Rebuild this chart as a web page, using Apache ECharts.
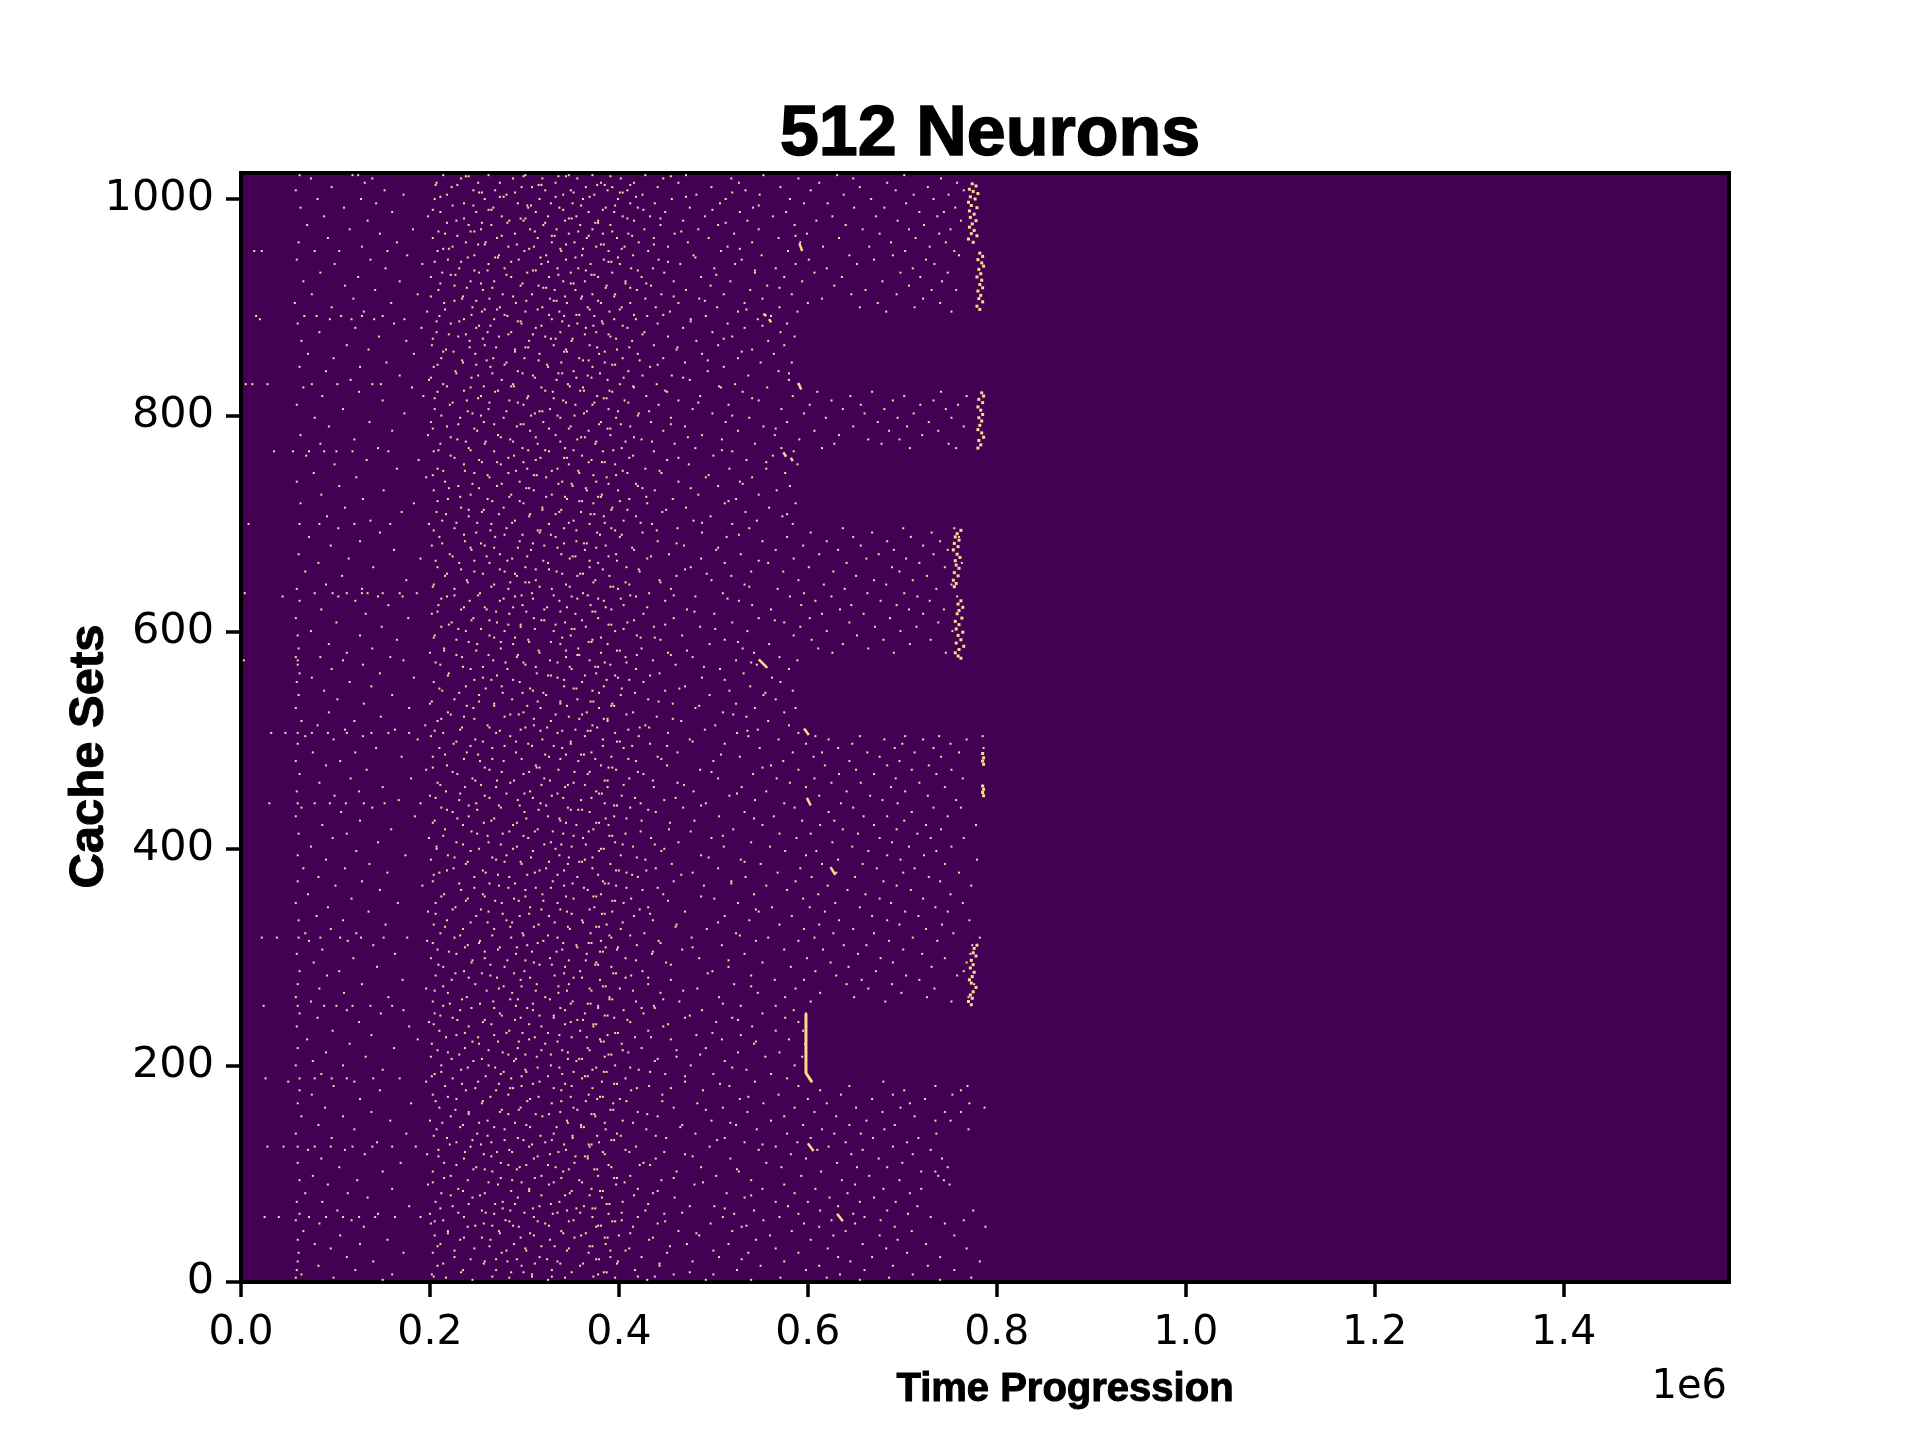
<!DOCTYPE html>
<html><head><meta charset="utf-8">
<script src="https://cdn.jsdelivr.net/npm/echarts@6/dist/echarts.min.js"></script>
<style>html,body{margin:0;background:#fff}#c{width:1921px;height:1441px}</style></head>
<body><div id="c"></div>
<script>
// Access dots are estimated by eye from zoomed crops, band by band. The reference has
// more dots than this list, so single positions and the count are approximate.
const chartTitle = "512 Neurons";
const xName = "Time Progression";
const yName = "Cache Sets";
const xTicks = [0,200000,400000,600000,800000,1000000,1200000,1400000];
const yTicks = [0,200,400,600,800,1000];
// each row: cache set, then access times in thousands
const bandTop = [
[1022,62,118,124,214,262,301,347,372,428,471,553,631,702],
[1019,74,139,233,288,319,356,402,447,519,590,648,741],
[1015,131,207,251,274,333,381,416,463,527,612,684,758],
[1011,96,223,297,308,365,393,441,498,571,655,727],
[1008,58,152,246,269,322,349,388,409,534,603,693,765],
[1004,172,218,281,341,374,425,482,549,638,712,749],
[1000,81,127,205,258,316,362,399,456,513,581,667,733],
[996,143,236,293,328,351,412,438,507,596,621,704],
[992,63,109,267,304,337,386,420,475,542,649,681,756],
[988,160,211,249,312,368,395,449,528,577,718,744],
[984,88,198,276,325,355,404,433,491,563,626,672,737],
[980,134,228,284,299,343,378,416,468,536,609,695,762],
[976,70,241,265,320,359,391,444,505,586,640,723],
[972,115,182,254,306,334,372,427,484,548,658,707,751],
[968,147,216,290,347,383,410,459,522,599,676,739],
[964,92,203,271,314,366,398,437,495,569,633,714],
[960,61,165,238,259,329,353,421,473,541,592,688,746],
[956,128,224,283,310,376,406,452,515,616,665,729],
[952,14,22,78,104,155,208,300,339,389,431,508,579,703,755],
[948,176,247,273,323,361,415,479,551,644,690,760],
[944,59,137,219,294,344,384,442,530,601,670,725],
[940,99,192,262,318,370,401,465,523,587,652,734],
[936,153,231,279,335,357,413,436,501,566,620,711],
[932,84,213,252,303,349,393,448,544,607,698,748],
[928,124,201,286,326,378,424,487,575,636,719],
[924,66,168,243,268,341,364,407,458,518,594,679,742],
[920,110,226,296,315,387,434,497,557,628,707],
[916,142,209,256,332,354,419,471,539,661,731,757],
[912,75,187,277,308,372,396,445,511,583,646,694],
[908,119,234,263,327,360,428,485,552,615,722],
[904,57,159,215,291,345,381,412,463,533,600,674,740],
[900,96,245,274,319,367,403,439,504,570,655,713],
[896,130,197,255,301,337,390,454,526,589,683,752]
];
const bandUpper = [
[892,16,67,80,106,128,150,210,282,342,374,430,492,561],
[889,20,94,117,141,173,236,268,329,395,418,476,547],
[885,60,162,222,297,356,383,441,515,578],
[881,121,191,249,312,365,409,468,533],
[877,83,207,261,286,338,376,427,499,571],
[873,146,230,273,322,391,452,520,586],
[869,64,175,242,305,350,414,482,558],
[865,112,202,258,331,369,437,505,575],
[861,135,217,290,344,398,461,541],
[857,71,183,248,316,379,420,488,564],
[853,98,212,267,300,358,404,447,526],
[849,154,235,281,339,385,470,550,583],
[845,62,126,204,264,325,372,433,511],
[841,90,227,293,352,410,494,569],
[837,168,251,309,367,425,456,537],
[833,116,199,276,334,388,475,580],
[829,5,12,28,75,102,139,148,214,288,346,401,440,523,590],
[826,66,181,243,318,362,416,508,557],
[822,125,208,269,330,393,451,531,610,668,741],
[818,86,193,254,304,377,429,486,584,645,702,768],
[814,150,239,284,341,406,463,548,625,690,733],
[810,59,221,299,354,372,442,516,602,656,719,759],
[806,108,205,262,327,389,478,572,637,681,746],
[802,173,245,311,363,421,499,596,660,712],
[798,78,232,278,338,397,455,538,619,695,752],
[794,136,201,257,320,381,434,513,578,674,728],
[790,93,218,292,349,412,470,553,648,705,765],
[786,160,250,306,368,447,526,607,686,738],
[782,63,198,272,333,391,488,565,633,721],
[778,120,229,285,356,424,509,591,664,697],
[774,84,211,258,314,375,459,544,628,678,749],
[770,145,241,298,343,403,481,572,615,708,757],
[767,35,55,72,88,101,118,156,204,268,326,383,437,520,585],
[763,69,222,289,361,415,500,563],
[759,133,188,252,312,371,451,535],
[755,99,236,275,347,396,474,589],
[751,165,208,303,335,428,517,556],
[747,77,247,283,358,409,445,576],
[743,122,196,263,323,387,492,541],
[739,59,216,295,340,376,463,528],
[735,104,230,271,351,420,505,581],
[731,151,204,310,366,399,438,567],
[727,85,243,286,329,382,484,548],
[723,129,219,261,345,411,457,524],
[719,63,183,299,373,430,512,587],
[715,110,233,278,319,393,471,559],
[711,170,207,255,337,360,446,534],
[707,91,241,305,384,418,497,573],
[703,137,213,290,352,405,479,546],
[700,8,62,83,120,158,199,265,326,369,435,520,584],
[696,103,226,281,342,392,462,538,637,701,755],
[692,147,249,316,377,425,488,603,668,731],
[688,72,210,269,333,401,514,578,648,709,760],
[684,126,237,295,355,441,552,620,684,740],
[680,95,202,258,321,386,469,595,656,722],
[676,162,244,307,364,416,503,566,632,691,748],
[672,61,221,274,339,397,453,529,612,675,733],
[668,114,190,287,348,430,487,585,662,704],
[664,82,231,263,325,378,512,558,641,718,763],
[660,140,208,301,369,408,476,601,689,745],
[656,68,247,279,334,422,540,574,627,697],
[652,107,216,292,356,390,461,519,651,726],
[648,175,239,312,375,443,498,590,670,711],
[644,90,204,268,344,411,533,617,683,752],
[640,59,128,226,283,329,399,455,568,639,736],
[636,4,78,97,112,128,134,150,168,186,253,308,362,432,510,596,663,702],
[633,44,103,145,171,218,290,350,418,481,581,625,716,758],
[629,62,121,242,274,337,384,449,527,608,677,729],
[625,156,209,298,370,405,541,593,646,694],
[621,85,233,260,321,392,472,561,634,707,744],
[617,132,202,284,354,426,501,615,659,722],
[613,58,177,246,310,378,458,548,602,687],
[609,101,223,271,343,409,520,575,644,738],
[605,149,212,296,365,437,486,592,671,715],
[601,74,238,279,331,396,536,620,698,753],
[597,60,126,205,263,349,419,467,585,652],
[593,165,228,304,372,444,512,604,680,730],
[589,93,250,288,338,388,496,559,637,708],
[585,61,139,215,275,357,424,531,611,664],
[581,112,200,316,381,452,543,626,691,746]
];
const bandMiddle = [
[577,58,84,158,234,292,344,407,478,570],
[574,3,60,108,172,267,327,369,436,524,589],
[570,60,129,211,301,391,460,546],
[566,96,243,282,350,418,507,580],
[562,62,147,220,313,376,443,532],
[558,75,183,256,335,399,488,562],
[554,59,115,204,295,361,426,571],
[550,138,238,276,342,384,470,539],
[546,88,213,309,372,449,517,584],
[542,61,160,252,323,402,496,553],
[538,102,226,287,356,431,566],
[534,130,200,268,338,393,457,524],
[530,58,178,246,317,379,481,544,587],
[526,93,219,299,366,415,510,575],
[522,148,236,279,347,440,535],
[518,64,120,208,328,388,466,558],
[514,81,195,261,310,372,428,502,580],
[510,110,163,232,296,354,410,491,547],
[507,32,47,60,75,92,112,138,156,178,214,270,335,396,452,525,590],
[504,68,129,201,285,364,421,537,608,655,703,739,785],
[501,98,187,248,319,383,475,569,622,681,722,768],
[497,60,225,304,349,433,512,598,647,700,751],
[493,143,210,266,340,405,549,632,692,733,786],
[489,76,121,239,291,371,462,584,615,663,713,760],
[485,170,203,326,392,441,528,606,676,741],
[481,58,105,253,278,357,418,500,574,644,697,785],
[477,90,218,312,381,451,561,618,684,728],
[473,133,196,263,336,397,486,590,651,710,752],
[469,62,229,299,367,426,542,633,670,736],
[465,116,180,245,321,411,505,567,607,693,764],
[461,83,208,285,352,462,581,625,656,718],
[457,150,237,270,343,388,437,530,598,688,745],
[453,59,125,217,306,376,479,556,641,703,785],
[449,99,200,258,329,403,517,612,666,727],
[445,167,231,293,360,448,544,600,679,757],
[442,30,60,78,94,111,130,152,190,249,317,385,423,492,575,635,695],
[438,64,139,212,275,346,412,468,586,648,733,762],
[434,106,224,300,369,439,533,622,710],
[430,58,184,241,325,395,506,564,659,684,748],
[426,126,205,265,338,424,480,594,628,702],
[422,86,235,288,355,389,552,613,670,725,778],
[418,159,216,314,373,453,521,637,694,741],
[414,61,112,250,277,341,407,570,603,653,716],
[410,97,199,304,362,434,498,588,676,730,765],
[406,145,228,262,328,396,463,540,626,689],
[402,74,207,292,350,415,511,560,647,707,752],
[398,122,243,309,379,445,576,609,664,736],
[394,60,174,219,281,337,402,487,598,684,723],
[390,90,201,270,364,428,529,632,698,779],
[386,136,238,297,346,391,456,550,615,658,745],
[382,66,110,225,323,372,439,505,592,673,713],
[378,155,210,259,311,408,478,568,630,701,760],
[374,82,247,284,356,420,534,604,650,728],
[370,60,128,203,330,383,458,519,587,680,740],
[366,100,192,273,342,397,490,556,621,694,773],
[362,147,233,301,367,425,578,642,709],
[358,71,215,256,319,381,447,543,611,661,751],
[354,117,240,289,352,413,501,595,676,722],
[350,58,166,206,276,335,405,526,629,688,764],
[346,92,227,306,374,431,562,602,655,735],
[342,135,198,262,345,393,470,548,618,703,748],
[338,80,249,295,326,416,512,583,668,717],
[334,61,108,218,281,361,436,538,633,684,771],
[330,153,204,315,387,461,570,612,697,742],
[326,95,235,268,348,402,493,596,648,725],
[322,68,122,211,298,370,427,524,627,670,754],
[318,22,38,61,84,105,127,151,176,226,286,335,392,477,558,607,711,782],
[315,72,113,197,253,320,381,442,545,590,686,737],
[311,140,240,303,355,419,509,638,662,774],
[307,86,208,272,340,398,467,575,616,701],
[303,59,163,228,291,366,435,533,653,721,772],
[299,119,201,258,327,407,485,599,677,745],
[295,77,244,310,376,450,552,624,690,768],
[291,144,214,279,343,392,516,582,643,731],
[287,62,104,236,300,359,425,499,608,672,765],
[283,91,206,264,332,413,540,630,704,758],
[279,171,223,296,380,455,565,596,657,718],
[275,60,128,248,313,347,431,522,641,689,776],
[271,83,196,273,369,401,483,587,664,734],
[267,109,219,287,336,444,547,613,699],
[263,58,156,239,322,390,506,576,649,726,770],
[259,74,203,267,351,418,464,603,682,752]
];
const bandLower = [
[255,24,60,88,101,118,137,160,214,291,378,437,529,566],
[251,112,172,232,309,343,405,488,585],
[248,62,148,205,274,364,426,552,598],
[244,81,224,296,331,395,470,520,576],
[240,125,199,256,349,412,503,590],
[236,59,178,241,318,373,447,541],
[232,97,210,284,359,431,566,595],
[228,138,228,268,337,388,482,529],
[224,70,187,305,380,455,509,580],
[220,115,202,252,322,403,543,597],
[216,60,162,237,293,367,424,492],
[212,90,219,277,346,410,526,570],
[208,132,201,313,385,461,555,594],
[204,76,246,289,355,438,512],
[200,58,108,212,262,328,396,476,586],
[196,150,233,301,372,421,535,598],
[192,85,205,275,340,449,500,561],
[188,26,62,78,96,112,140,168,224,286,361,407,578],
[185,50,120,196,251,316,382,470,544,604,680],
[181,98,216,297,350,432,517,590,644,735,769],
[177,62,147,238,270,339,413,489,613,702,762],
[173,75,203,283,368,446,569,635,690,753],
[169,126,228,306,377,401,528,600,668,724],
[165,60,180,255,329,394,483,553,620,708,771],
[161,89,210,296,352,458,510,586,651,698,787],
[157,138,241,274,338,420,536,607,679,745,762],
[153,64,108,222,319,375,441,575,630,713],
[149,158,200,261,345,404,498,561,662,735,751],
[145,82,235,302,360,467,524,595,644,692],
[141,120,207,279,386,429,546,615,681,770],
[137,58,175,250,331,398,481,578,628,656,736],
[133,96,218,293,351,450,512,603,669,717],
[129,144,228,265,322,379,533,589,640,705],
[125,28,45,60,78,95,118,139,160,185,243,305,369,418,496,566,622,690],
[122,71,110,209,284,344,407,548,610,658,730],
[118,131,197,257,327,385,470,582,646,711],
[114,85,236,310,367,439,518,598,675,742],
[110,60,169,215,275,353,426,556,631,700],
[106,104,249,295,333,392,487,572,652,684,748],
[102,150,203,266,341,461,527,614,720,735],
[98,76,222,318,378,412,503,593,665,738],
[94,62,123,240,287,358,445,540,636,697,744],
[90,92,198,272,326,397,480,575,650,750],
[86,160,230,305,371,420,552,608,680,720],
[82,68,113,212,258,348,436,514,586,642,708],
[78,134,245,293,382,459,533,623,670],
[74,59,86,206,277,337,404,566,600,655,693],
[70,178,224,316,363,475,501,579,632,716],
[66,102,255,285,345,428,543,613,684,775],
[63,62,145,200,268,330,389,448,522,590,648,706],
[60,25,40,72,90,108,125,142,163,190,236,310,372,420,510,570,660,730],
[57,58,117,214,280,352,403,553,625,677,765],
[54,83,201,257,322,441,497,596,650,745],
[51,130,240,294,376,415,530,612,692,788],
[47,66,219,273,339,463,520,583,640,710],
[43,105,205,310,360,400,485,560,627,676,755],
[39,60,155,232,264,327,432,545,603,695],
[35,78,126,211,289,386,472,516,658,725],
[31,95,247,301,347,411,566,621,683,768],
[27,61,172,203,276,368,451,537,590,705],
[23,112,226,316,391,424,506,632,668,740],
[19,60,140,258,282,335,399,478,575,645,782],
[15,82,208,297,359,443,550,612,690,727],
[11,59,121,235,270,329,417,525,598,660,755],
[7,64,160,202,308,378,458,500,634,711],
[4,58,98,217,284,343,396,571,620,686,773],
[2,150,245,325,430,492,540,655,740]
];
// extra rows for the dense block between 0.2e6 and 0.42e6
const bandDense = [
[1021,238,241,299,336,344,391,455],[1013,206,229,315,318,377,385,412],[1006,252,255,290,352,401,404,520],
[1002,211,274,278,333,369,418,471],[994,224,246,303,307,360,396,548],[990,203,262,265,341,383,426,499],
[982,236,296,301,347,350,409,444],[978,218,255,282,322,375,378,513],[970,209,243,247,311,357,393,466],
[966,229,276,329,332,368,414,587],[958,251,258,292,344,381,384,437],[954,214,220,305,338,362,403,528],
[946,240,269,272,317,354,399,481],[942,205,233,286,325,389,392,452],[934,247,261,309,312,365,420,544],
[930,222,227,281,336,371,374,503],[922,211,254,298,349,352,407,429],[918,239,266,320,323,386,412,570],
[910,201,235,288,343,361,395,458],[906,226,249,302,331,334,378,491],[898,216,258,271,314,369,401,535],
[893,244,279,326,355,358,416,447],[887,207,231,293,296,340,382,476],[883,252,264,318,347,373,404,552],
[875,220,238,283,309,364,389,425],[871,203,256,328,333,351,397,511],[863,242,270,301,304,377,411,462],
[859,214,225,290,342,345,385,530],[851,234,260,315,362,368,422,494],[847,208,249,279,324,393,396,441],
[839,228,266,298,336,340,380,580],[835,201,244,311,355,371,405,468],[827,218,257,286,289,348,415,506],
[823,236,272,322,359,363,390,449],[816,205,251,303,331,384,387,541],[812,224,263,293,344,374,410,484],
[804,240,281,316,319,366,399,432],[800,212,254,307,335,353,420,520],[792,230,268,296,299,379,402,455],
[788,203,247,326,347,388,391,566],[780,222,275,312,360,364,416,473],[776,238,259,288,338,376,407,435],
[768,209,243,304,322,352,394,509],[761,226,283,317,342,345,411,463],[757,255,271,299,368,382,385,556],
[749,214,237,291,329,357,404,443],[745,203,261,310,313,373,397,495],[737,245,276,336,350,389,418,531],
[733,220,252,302,305,365,425,476],[725,232,284,323,343,378,381,429],[721,208,266,295,358,361,401,516],
[713,241,257,319,339,392,409,450],[709,217,273,306,333,370,374,578],[701,228,250,287,347,385,423,488],
[694,204,264,314,317,355,396,440],[690,236,279,298,328,380,403,527],[682,213,254,309,342,363,366,461],
[678,243,268,293,335,376,414,505],[670,224,260,303,351,354,389,434],[666,206,247,282,320,369,398,548],
[658,233,274,312,326,383,421,470],[654,218,256,290,340,359,362,493],[646,240,285,301,305,373,407,444],
[642,203,265,316,348,391,394,538],[634,226,251,297,331,367,412,458],[631,212,278,309,356,378,402,515],
[623,236,258,288,324,345,386,430],[619,208,270,302,338,372,375,480],[611,244,263,318,321,361,416,565],
[607,220,283,296,333,389,392,449],[603,230,254,311,350,353,405,502],[595,204,268,290,340,381,423,438],
[591,241,275,305,328,368,371,526],[583,215,249,315,344,398,401,472],[579,228,262,293,356,358,419,455],
[572,206,280,299,335,385,408,540],[568,235,256,312,348,375,378,490],[560,219,271,325,328,364,396,433],
[556,247,265,288,342,387,411,512],[548,210,259,306,352,355,403,464],[544,231,277,298,320,379,417,555],
[536,202,252,314,338,370,373,442],[532,239,268,303,345,392,395,485],[524,222,285,294,333,361,408,521],
[520,212,247,310,358,384,388,457],[512,234,263,301,324,377,422,432],[509,205,274,317,340,367,370,536],
[499,228,256,291,349,398,401,478],[495,243,279,308,331,383,414,451],[487,216,251,322,344,360,363,508],
[483,236,266,297,338,375,410,445],[475,203,258,313,316,389,393,552],[471,224,276,305,353,369,420,498],
[463,248,271,289,327,385,388,436],[459,211,254,318,346,364,405,469],[451,232,281,300,335,379,382,525],
[447,206,263,309,341,371,417,460],[440,241,273,295,323,395,398,487],[436,218,250,315,349,357,361,431],
[428,229,268,302,337,386,408,543],[424,203,257,292,344,376,379,454],[416,244,284,311,330,368,423,476],
[412,214,261,299,352,390,393,510],[404,235,275,321,339,365,404,438],[400,207,252,288,333,381,384,448],
[392,226,266,307,347,372,419,495],[388,240,279,296,326,358,361,533],[380,218,256,316,342,397,400,429],
[376,204,272,303,335,378,414,466],[368,231,263,290,351,385,389,519],[364,247,283,312,328,363,408,441],
[356,212,258,301,344,373,376,487],[352,238,269,294,320,393,396,452],[344,224,254,318,338,369,422,545],
[340,206,277,305,350,382,385,433],[332,243,261,287,332,362,404,505],[328,216,285,310,346,376,379,460],
[320,232,266,299,325,390,412,528],[313,203,252,314,341,368,371,444],[309,237,274,292,356,386,399,478],
[305,220,258,308,334,380,383,436],[297,245,282,301,347,365,418,516],[293,209,264,316,329,375,378,455],
[285,227,255,289,342,394,397,494],[281,241,271,306,352,361,407,431],[273,214,278,297,336,383,386,540],
[269,205,260,312,345,371,415,468],[261,234,285,293,327,390,393,447],[257,221,253,309,349,367,370,510],
[253,244,268,303,338,378,424,438],[246,211,276,316,331,385,388,475],[242,229,258,290,356,362,409,526],
[238,204,265,305,343,373,376,452],[230,237,281,298,325,396,399,499],[226,217,251,311,350,366,417,434],
[222,245,272,294,335,381,384,545],[214,208,262,318,340,369,404,461],[210,231,283,301,328,389,392,486],
[206,223,255,291,346,358,361,441],[198,240,269,314,337,376,412,520],[194,212,278,302,352,384,387,433],
[190,202,259,297,325,364,367,470],[183,234,273,309,343,395,398,507],[179,248,285,288,331,372,419,455],
[171,219,264,315,349,380,383,537],[167,206,256,303,339,365,408,446],[159,227,276,294,356,391,394,492],
[155,241,283,312,326,371,374,430],[147,213,252,290,346,385,415,518],[143,232,268,306,334,360,363,465],
[135,204,261,317,351,377,402,439],[131,245,279,299,329,392,395,504],[127,221,254,308,342,368,371,552],
[120,237,271,287,336,383,411,448],[116,209,265,314,354,364,367,478],[108,228,283,302,325,389,422,433],
[104,246,258,292,347,374,377,525],[96,215,275,311,339,395,398,458],[92,203,262,297,331,361,406,489],
[84,235,286,305,350,380,383,441],[80,222,253,318,343,369,416,540],[72,241,269,290,328,387,390,431],
[68,211,277,309,355,372,375,512],[64,230,259,300,335,359,403,467],[56,205,284,314,347,393,396,449],
[52,248,266,288,326,378,381,535],[45,219,274,306,341,365,412,482],[41,236,255,296,353,385,388,436],
[33,208,263,318,332,369,372,454],[29,226,281,302,345,391,407,500],[21,243,270,292,324,376,379,530],
[17,214,257,311,338,362,398,443],[9,233,286,299,350,384,387,475],[5,204,266,308,329,373,420,438]
];
// bright clusters near the end of the run: [time, set]
const clusterDots = [
[774,1014],[778,1012],[771,1009],[775,1007],[780,1005],[772,1002],[777,1000],[770,997],[773,994],[779,992],[771,989],[776,986],[772,983],[778,980],[774,977],[771,974],[776,971],[773,968],[779,966],[770,963],[775,960],
[782,950],[785,947],[780,944],[784,941],[786,938],[781,935],[783,931],[779,928],[784,925],[782,921],[785,918],[780,915],[783,911],[781,908],[785,905],[779,901],[782,898],
[784,821],[786,818],[781,815],[785,812],[780,808],[783,805],[785,801],[781,798],[784,795],[782,791],[780,787],[784,784],[786,780],[781,777],[783,773],[780,770],
[762,694],[758,691],[756,688],[760,685],[755,682],[759,679],[754,676],[758,672],[761,669],[756,666],[757,662],[760,659],[755,655],[759,652],[754,648],[757,645],[755,642],
[762,629],[759,626],[764,623],[760,620],[758,617],[763,613],[756,610],[760,607],[757,603],[764,600],[759,597],[762,593],[757,590],[765,587],[760,584],[756,581],[759,578],[762,576],
[785,488],[786,484],[785,481],[786,478],[785,458],[786,455],[785,452],[786,449],
[779,311],[776,308],[775,304],[778,301],[773,297],[775,293],[772,290],[776,286],[774,282],[771,279],[773,276],[778,272],[775,268],[772,265],[774,262],[770,259],[773,256]
];
const burstSegments = [
[[631,63],[637,56]],[[600,128],[606,121]],[[624,383],[629,376]],[[599,447],[603,440]],
[[596,511],[601,505]],[[548,575],[557,567]],[[574,766],[577,762]],[[582,761],[584,758]],
[[591,959],[594,952]],[[553,894],[556,892]],[[559,889],[561,886]],[[590,830],[593,824]]
];
const sweepLine = [[598,248],[598,193],[604,185]];

const rows = [...bandTop, ...bandUpper, ...bandMiddle, ...bandLower, ...bandDense];
const sparseDots = [];
rows.forEach(r => { for (let i = 1; i < r.length; i++) sparseDots.push([r[i]*1000, r[0]]); });
const toCycles = p => [p[0]*1000, p[1]];
const lineStyleOf = w => ({color:'#ffd98c', width:w});
const segmentSeries = burstSegments.concat([sweepLine]).map((s,i) => ({
  type:'line', data:s.map(toCycles), symbol:'none', silent:true,
  lineStyle:lineStyleOf(i === burstSegments.length ? 3 : 2.5), z:4
}));

const chart = echarts.init(document.getElementById('c'), null, {renderer:'canvas'});
const tickFont = {fontFamily:'DejaVu Sans', fontSize:40, color:'#000'};
const nameFont = {fontFamily:'Liberation Sans', fontWeight:'bold', color:'#000', textBorderColor:'#000'};
chart.setOption({
  animation:false,
  backgroundColor:'#fff',
  title:{text:chartTitle, left:985, top:96, textAlign:'center',
    textStyle:{...nameFont, fontSize:70, textBorderWidth:1.5}},
  grid:{left:241, top:173, width:1488, height:1109, show:true,
    backgroundColor:'#440154', borderColor:'#000', borderWidth:4},
  xAxis:{type:'value', min:0, max:1575000, name:xName, nameLocation:'middle', nameGap:88,
    nameTextStyle:{...nameFont, fontSize:40, textBorderWidth:1, padding:[0,0,0,160]},
    splitLine:{show:false}, axisLine:{show:false},
    axisTick:{show:true, length:15, lineStyle:{color:'#000', width:3.5}, customValues:xTicks},
    axisLabel:{...tickFont, fontSize:41, margin:31, customValues:xTicks, formatter:v => (v/1e6).toFixed(1)}},
  yAxis:{type:'value', min:0, max:1024, name:yName, nameLocation:'middle', nameGap:127, nameRotate:90, nameMoveOverlap:false,
    nameTextStyle:{...nameFont, fontSize:49, textBorderWidth:1, padding:[0,58,0,0]},
    splitLine:{show:false}, axisLine:{show:false},
    axisTick:{show:true, length:15, lineStyle:{color:'#000', width:3.5}, customValues:yTicks},
    axisLabel:{...tickFont, fontSize:43, margin:27, padding:[4,0,0,0], customValues:yTicks, formatter:v => String(v)}},
  graphic:[{type:'text', right:194, top:1368, style:{text:'1e6', fill:'#000', font:'40px "DejaVu Sans"'}}],
  series:[
    {type:'scatter', data:sparseDots, symbol:'rect', symbolSize:2, silent:true,
      itemStyle:{color:'#f9d9a4', opacity:1}, z:3},
    {type:'scatter', data:clusterDots.map(toCycles), symbol:'rect', symbolSize:3, silent:true,
      itemStyle:{color:'#ffd98c', opacity:1}, z:3},
    ...segmentSeries
  ]
});
</script></body></html>
